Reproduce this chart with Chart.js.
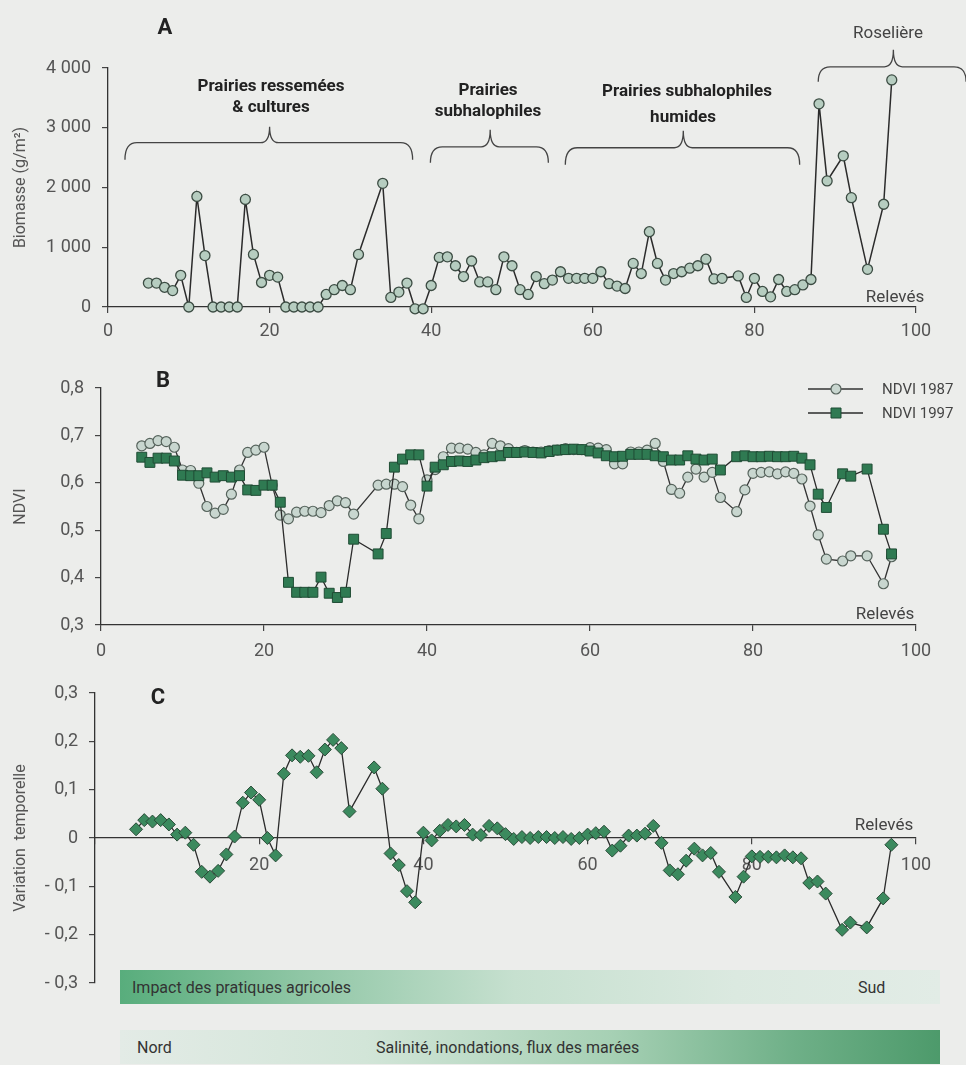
<!DOCTYPE html>
<html lang="fr">
<head>
<meta charset="utf-8">
<title>Biomasse, NDVI et variation temporelle</title>
<script src="https://cdn.jsdelivr.net/npm/chart.js@4.4.1/dist/chart.umd.min.js"></script>
<style>
  html, body { margin: 0; padding: 0; background: #ecedeb; }
  #page { position: relative; width: 966px; height: 1065px; overflow: hidden;
          font-family: Roboto, "Liberation Sans", sans-serif; color: #333; }
  canvas { position: absolute; left: 0; }
  .t { position: absolute; white-space: nowrap; line-height: 1; transform: translate(-50%, -50%); }
  .l { position: absolute; white-space: nowrap; line-height: 1; transform: translate(0, -50%); }
  .zone { font-weight: 700; font-size: 17px; color: #222; }
  .lettre { font-weight: 700; font-size: 22px; color: #222; }
  .rel { font-size: 17px; color: #444; }
  .leg { font-size: 15px; color: #444; }
  .barre { position: absolute; left: 120px; width: 820px; height: 34px; }
  .barre span { position: absolute; top: 50%; transform: translate(0, -50%); font-size: 16px; color: #333; white-space: nowrap; }
</style>
</head>
<body>
<div id="page">
  <canvas id="grA" width="966" height="350" style="top:0px"></canvas>
  <canvas id="grB" width="966" height="330" style="top:340px"></canvas>
  <canvas id="grC" width="966" height="345" style="top:660px"></canvas>

  <div class="t lettre" style="left:165px;top:27px">A</div>
  <div class="t lettre" style="left:163px;top:380px">B</div>
  <div class="t lettre" style="left:158px;top:697px">C</div>

  <div class="t zone" style="left:271px;top:85px">Prairies ressemées</div>
  <div class="t zone" style="left:271px;top:106px">&amp; cultures</div>
  <div class="t zone" style="left:488px;top:89px">Prairies</div>
  <div class="t zone" style="left:488px;top:110px">subhalophiles</div>
  <div class="t zone" style="left:687px;top:90px">Prairies subhalophiles</div>
  <div class="t zone" style="left:683px;top:116px">humides</div>
  <div class="t rel" style="left:888px;top:32px">Roselière</div>

  <div class="t rel" style="left:895px;top:296px">Relevés</div>
  <div class="t rel" style="left:885px;top:613px">Relevés</div>
  <div class="t rel" style="left:884px;top:824px">Relevés</div>

  <div class="l leg" style="left:882px;top:389px">NDVI 1987</div>
  <div class="l leg" style="left:882px;top:413px">NDVI 1997</div>

  <div class="barre" style="top:970px;background:linear-gradient(to right,#58ad7c 0%,#8fc6a5 22%,#c6e0cf 48%,#dbe9e0 75%,#e2ece6 100%)">
    <span style="left:12px">Impact des pratiques agricoles</span>
    <span style="left:738px">Sud</span>
  </div>
  <div class="barre" style="top:1030px;background:linear-gradient(to right,#e3ebe6 0%,#d2e5d8 30%,#a6d0b4 60%,#6fb088 82%,#4d9a6b 100%)">
    <span style="left:17px">Nord</span>
    <span style="left:256px">Salinité, inondations, flux des marées</span>
  </div>
</div>

<script>
// relevés (abscisse commune aux trois graphiques)
const releves = [5, 6, 7, 8, 9, 10, 11, 12, 13, 14, 15, 16, 17, 18, 19, 20, 21, 22, 23, 24, 25, 26, 27, 28, 29, 30, 31,
  34, 35, 36, 37, 38, 39, 40, 41, 42, 43, 44, 45, 46, 47, 48, 49, 50, 51, 52, 53, 54, 55, 56, 57, 58, 59, 60,
  61, 62, 63, 64, 65, 66, 67, 68, 69, 70, 71, 72, 73, 74, 75, 76,
  78, 79, 80, 81, 82, 83, 84, 85, 86, 87, 88, 89, 91, 92, 94, 96, 97];

// A : biomasse (g/m2)
const biomasse = [400, 400, 330, 275, 530, 0, 1850, 860, 0, 0, 0, 0, 1800, 880, 410, 530, 500, 0, 0, 0, 0, 0, 210, 290, 360, 290, 880,
  2070, 160, 250, 400, -30, -30, 360, 830, 840, 690, 510, 770, 420, 420, 290, 840, 690, 290, 210, 510, 390, 450, 590, 480, 480, 480, 480,
  590, 390, 350, 310, 730, 560, 1260, 730, 450, 560, 590, 650, 690, 800, 470, 480,
  520, 160, 480, 260, 170, 460, 260, 290, 370, 460, 3400, 2110, 2530, 1830, 630, 1720, 3800];

// B : NDVI
const ndvi1987 = [0.678, 0.683, 0.689, 0.687, 0.675, 0.627, 0.626, 0.599, 0.550, 0.536, 0.544, 0.576, 0.627, 0.664, 0.669, 0.675, 0.595, 0.532, 0.524, 0.538, 0.540, 0.540, 0.537, 0.552, 0.562, 0.558, 0.534,
  0.595, 0.597, 0.597, 0.592, 0.553, 0.524, 0.606, 0.628, 0.655, 0.673, 0.673, 0.671, 0.664, 0.659, 0.683, 0.678, 0.672, 0.664, 0.668, 0.665, 0.665, 0.668, 0.669, 0.672, 0.670, 0.670, 0.674,
  0.673, 0.670, 0.640, 0.640, 0.665, 0.665, 0.669, 0.683, 0.645, 0.586, 0.578, 0.612, 0.629, 0.612, 0.622, 0.569,
  0.539, 0.585, 0.620, 0.622, 0.623, 0.619, 0.623, 0.620, 0.608, 0.551, 0.490, 0.439, 0.435, 0.446, 0.446, 0.387, 0.444];
const ndvi1997 = [0.654, 0.643, 0.652, 0.652, 0.646, 0.616, 0.615, 0.615, 0.621, 0.612, 0.615, 0.612, 0.615, 0.585, 0.584, 0.595, 0.595, 0.559, 0.390, 0.369, 0.369, 0.369, 0.401, 0.367, 0.358, 0.369, 0.481,
  0.450, 0.493, 0.633, 0.650, 0.659, 0.659, 0.593, 0.633, 0.638, 0.645, 0.646, 0.645, 0.648, 0.653, 0.655, 0.657, 0.664, 0.664, 0.665, 0.664, 0.663, 0.666, 0.669, 0.670, 0.671, 0.670, 0.667,
  0.663, 0.657, 0.655, 0.656, 0.660, 0.660, 0.660, 0.657, 0.655, 0.648, 0.648, 0.657, 0.650, 0.648, 0.650, 0.627,
  0.655, 0.657, 0.655, 0.655, 0.656, 0.655, 0.655, 0.656, 0.652, 0.638, 0.576, 0.548, 0.619, 0.614, 0.629, 0.502, 0.450];

// C : variation temporelle
const variation = [0.018, 0.037, 0.034, 0.037, 0.028, 0.007, 0.011, -0.014, -0.070, -0.080, -0.068, -0.034, 0.003, 0.073, 0.094, 0.079, 0.000, -0.036, 0.133, 0.171, 0.168, 0.170, 0.136, 0.183, 0.203, 0.186, 0.055,
  0.146, 0.102, -0.032, -0.056, -0.110, -0.133, 0.011, -0.005, 0.015, 0.027, 0.024, 0.027, 0.007, 0.006, 0.025, 0.020, 0.008, -0.002, 0.002, 0.000, 0.002, 0.002, 0.000, 0.002, -0.002, 0.000, 0.007,
  0.010, 0.013, -0.026, -0.016, 0.005, 0.005, 0.009, 0.025, -0.010, -0.067, -0.075, -0.047, -0.022, -0.036, -0.031, -0.070,
  -0.122, -0.080, -0.038, -0.039, -0.039, -0.040, -0.036, -0.040, -0.042, -0.093, -0.090, -0.115, -0.190, -0.175, -0.185, -0.125, -0.014];

const ticksX = [0, 20, 40, 60, 80, 100];

// accolades des groupes de relevés (en unités des axes)
const accolades = [
  { de: 2.1, a: 37.7, milieu: 20, niveau: 2750, crochet: 17, pointe: 16 },
  { de: 39.9, a: 54.5, milieu: 47.3, niveau: 2680, crochet: 16, pointe: 17 },
  { de: 56.6, a: 85.6, milieu: 71.2, niveau: 2665, crochet: 17, pointe: 17 },
  { de: 87.9, a: 106.2, milieu: 97.2, niveau: 4020, crochet: 15, pointe: 17 }
];

Chart.defaults.font.family = 'Roboto, "Liberation Sans", sans-serif';
Chart.defaults.color = '#555';

const pts = (ys) => releves.map((r, i) => ({ x: r, y: ys[i] }));
const virgule = (v) => v.toFixed(1).replace('.', ',');

function axeX(padding, extra) {
  return Object.assign({
    type: 'linear', min: 0, max: 100,
    afterBuildTicks: (s) => { s.ticks = ticksX.map(v => ({ value: v })); },
    ticks: { font: { size: 18 }, color: '#555', padding: padding },
    grid: { drawOnChartArea: false, drawTicks: true, tickLength: 6, color: '#444', lineWidth: 1.2 },
    border: { display: true, color: '#333', width: 1.3 }
  }, extra || {});
}
function axeY(min, max, pas, largeur, titre, fmt) {
  return {
    type: 'linear', min: min, max: max,
    afterFit: (s) => { s.width = largeur; },
    ticks: { stepSize: pas, font: { size: 18 }, color: '#555', padding: 11, callback: fmt },
    grid: { drawOnChartArea: false, drawTicks: true, tickLength: 6, color: '#444', lineWidth: 1.2 },
    border: { display: true, color: '#333', width: 1.3 },
    title: { display: true, text: titre, font: { size: 16 }, color: '#555', padding: { top: 11, bottom: 0 } }
  };
}
const commun = {
  responsive: false, animation: false, devicePixelRatio: 1, events: [],
  plugins: { legend: { display: false }, tooltip: { enabled: false } }
};

// --- A : biomasse ---
const accoladesPlugin = {
  id: 'accolades',
  afterDraw(chart) {
    const { ctx, scales: { x, y } } = chart;
    ctx.save();
    ctx.strokeStyle = '#444';
    ctx.lineWidth = 1.3;
    accolades.forEach(b => {
      const x1 = x.getPixelForValue(b.de), x2 = x.getPixelForValue(b.a);
      const xm = x.getPixelForValue(b.milieu), yl = y.getPixelForValue(b.niveau);
      ctx.beginPath();
      ctx.moveTo(x1, yl + b.crochet);
      ctx.quadraticCurveTo(x1, yl, x1 + 12, yl);
      ctx.lineTo(xm - 9, yl);
      ctx.quadraticCurveTo(xm, yl, xm, yl - b.pointe);
      ctx.quadraticCurveTo(xm, yl, xm + 9, yl);
      ctx.lineTo(x2 - 12, yl);
      ctx.quadraticCurveTo(x2, yl, x2, yl + b.crochet);
      ctx.stroke();
    });
    ctx.restore();
  }
};

new Chart(document.getElementById('grA'), {
  type: 'line',
  data: {
    datasets: [{
      label: 'Biomasse',
      data: pts(biomasse),
      borderColor: '#2b2b2b', borderWidth: 1.5, tension: 0, clip: false,
      pointRadius: 5, pointBackgroundColor: '#b6cdc0', pointBorderColor: '#3c4c43', pointBorderWidth: 1.3
    }]
  },
  options: Object.assign({}, commun, {
    layout: { padding: { left: 0, right: 50, top: 68, bottom: 0 } },
    scales: {
      x: axeX(8, { afterFit: (s) => { s.height = 43; } }),
      y: axeY(0, 4000, 1000, 108, 'Biomasse (g/m²)', v => v === 0 ? '0' : (v / 1000) + ' 000')
    }
  }),
  plugins: [accoladesPlugin]
});

// --- B : NDVI ---
const legendeB = {
  id: 'legendeB',
  afterDraw(chart) {
    const ctx = chart.ctx;
    const lignes = [49, 73];
    ctx.save();
    chart.data.datasets.forEach((ds, i) => {
      const yy = lignes[i];
      ctx.strokeStyle = ds.borderColor; ctx.lineWidth = 1.3;
      ctx.beginPath(); ctx.moveTo(808, yy); ctx.lineTo(863, yy); ctx.stroke();
      ctx.fillStyle = ds.pointBackgroundColor; ctx.strokeStyle = ds.pointBorderColor;
      ctx.lineWidth = ds.pointBorderWidth;
      ctx.beginPath();
      if (ds.pointStyle === 'rect') ctx.rect(836 - 5, yy - 5, 10, 10);
      else ctx.arc(836, yy, ds.pointRadius, 0, Math.PI * 2);
      ctx.fill(); ctx.stroke();
    });
    ctx.restore();
  }
};

new Chart(document.getElementById('grB'), {
  type: 'line',
  data: {
    datasets: [{
      label: 'NDVI 1987',
      data: pts(ndvi1987), order: 1,
      borderColor: '#333', borderWidth: 1.3, tension: 0, clip: false,
      pointStyle: 'circle', pointRadius: 5, pointBackgroundColor: '#c8d6cf', pointBorderColor: '#56635c', pointBorderWidth: 1.2
    }, {
      label: 'NDVI 1997',
      data: pts(ndvi1997), order: 0,
      borderColor: '#2b2b2b', borderWidth: 1.3, tension: 0, clip: false,
      pointStyle: 'rect', pointRadius: 7, pointBackgroundColor: '#2f7a52', pointBorderColor: '#1f4c34', pointBorderWidth: 1
    }]
  },
  options: Object.assign({}, commun, {
    layout: { padding: { left: 0, right: 50, top: 48, bottom: 0 } },
    scales: {
      x: axeX(10, { afterFit: (s) => { s.height = 45; } }),
      y: axeY(0.3, 0.8, 0.1, 101, 'NDVI', virgule)
    }
  }),
  plugins: [legendeB]
});

// --- C : variation temporelle ---
new Chart(document.getElementById('grC'), {
  type: 'line',
  data: {
    datasets: [{
      label: 'Variation temporelle',
      data: pts(variation),
      borderColor: '#2b2b2b', borderWidth: 1.3, tension: 0, clip: false,
      pointStyle: 'rectRot', pointRadius: 6.5, pointBackgroundColor: '#3b8a5e', pointBorderColor: '#294a37', pointBorderWidth: 1
    }]
  },
  options: Object.assign({}, commun, {
    layout: { padding: { left: 0, right: 50, top: 33, bottom: 22 } },
    scales: {
      x: axeX(11, {
        position: { y: 0 },
        ticks: { font: { size: 18 }, color: '#555', padding: 11, callback: v => v === 0 ? '' : v }
      }),
      y: axeY(-0.3, 0.3, 0.1, 95, 'Variation  temporelle', v => {
        if (Math.abs(v) < 1e-9) return '0';
        const s = virgule(Math.abs(v));
        return v < 0 ? '- ' + s : s;
      })
    }
  })
});
</script>
</body>
</html>
